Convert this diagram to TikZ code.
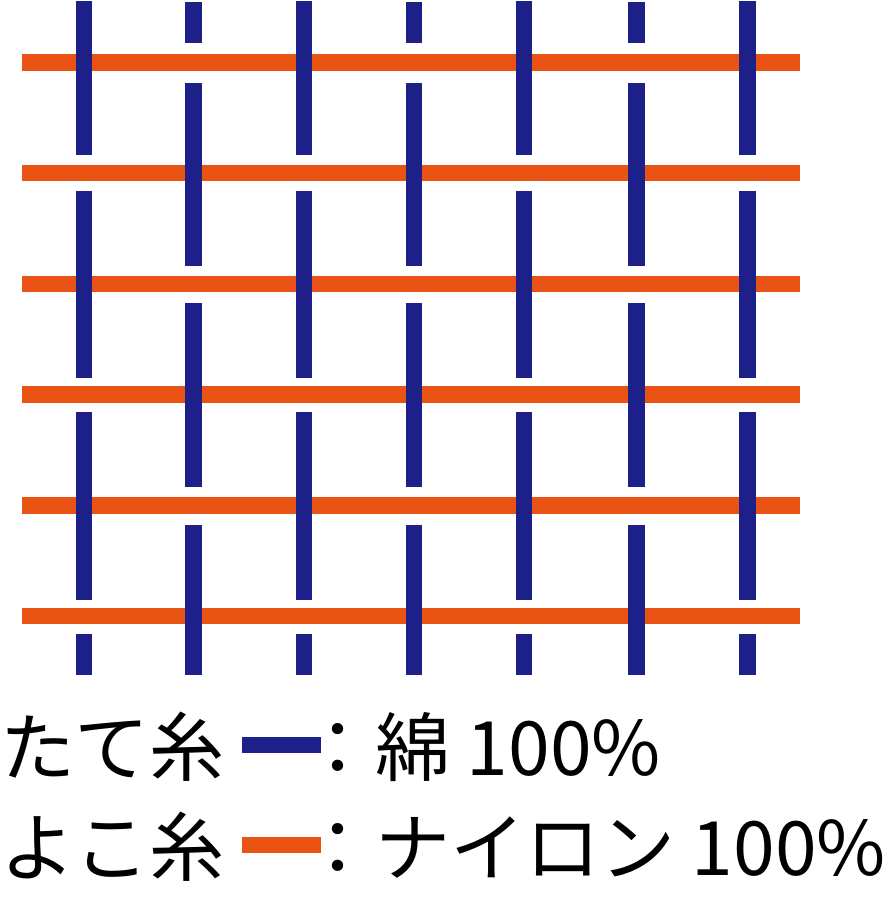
\documentclass[tikz,border=0pt]{standalone}
\usepackage{fontspec}
\setmainfont{Noto Sans CJK JP}
\definecolor{tateblue}{RGB}{29,32,136}
\definecolor{yokoorange}{RGB}{233,84,21}

\begin{document}
\begin{tikzpicture}[x=1pt,y=-1pt,line width=16.5pt,
  node font=\fontsize{75}{90}\selectfont,
  legendtext/.style={anchor=base west,inner sep=0pt,outer sep=0pt}]
\useasboundingbox (0,0) rectangle (894,900);
% yoko ito
\foreach \y in {62.5,173.2,283.9,394.6,505.3,616}
  \draw [color=yokoorange] (22,\y)-- (800,\y);
% tate ito
\foreach \x in {84,304,524,747.5} {
  \draw [color=tateblue] (\x,1)-- (\x,155);
  \draw [color=tateblue] (\x,191)-- (\x,378);
  \draw [color=tateblue] (\x,412)-- (\x,600);
  \draw [color=tateblue] (\x,634)-- (\x,675);
}
\foreach \x in {193.3,414,636.5} {
  \draw [color=tateblue] (\x,2)-- (\x,42.5);
  \draw [color=tateblue] (\x,83)-- (\x,265.5);
  \draw [color=tateblue] (\x,303)-- (\x,487);
  \draw [color=tateblue] (\x,525)-- (\x,675);
}
% legend
\node [legendtext] (tate) at (0,775) {たて糸};
\draw [color=tateblue] (242,745)-- (321,745);
\node [legendtext] (wata) at (300,775) {：綿 100\%};
\node [legendtext] (yoko) at (0,875) {よこ糸};
\draw [color=yokoorange] (242,845)-- (321,845);
\node [legendtext] (nylon) at (300,875) {：ナイロン 100\%};
\end{tikzpicture}
\end{document}
